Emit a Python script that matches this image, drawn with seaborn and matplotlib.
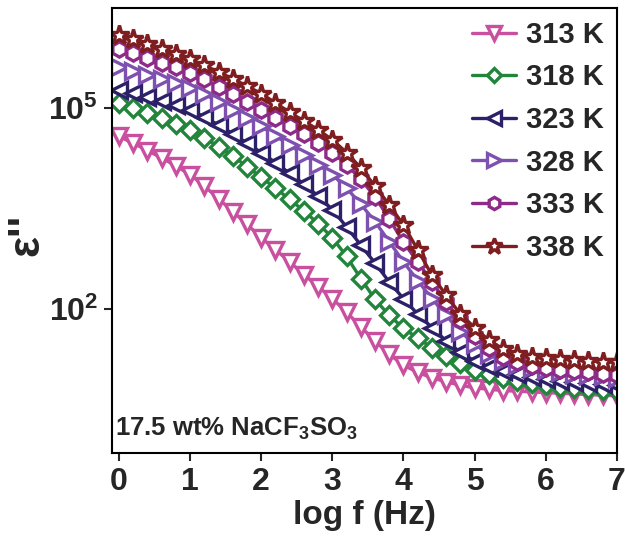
import matplotlib
matplotlib.use("Agg")
import matplotlib.pyplot as plt
import numpy as np
import pandas as pd
import seaborn as sns


# log f (Hz) grid of the measurement, 0 .. 7 in steps of 0.2
log_f = np.round(np.linspace(0, 7, 36), 1)

# log10 of the dielectric loss
log_eps_313 = [4.57, 4.47, 4.36, 4.25, 4.13, 4.00, 3.83, 3.64, 3.45, 3.26, 3.06, 2.88,
               2.70, 2.51, 2.33, 2.15, 1.95, 1.73, 1.52, 1.32, 1.16, 1.05, 0.97, 0.91,
               0.86, 0.82, 0.80, 0.78, 0.77, 0.76, 0.75, 0.74, 0.73, 0.72, 0.71, 0.70]
log_eps_318 = [5.07, 5.00, 4.92, 4.84, 4.76, 4.67, 4.55, 4.42, 4.28, 4.12, 3.96, 3.80,
               3.63, 3.46, 3.27, 3.06, 2.78, 2.45, 2.14, 1.90, 1.71, 1.56, 1.42, 1.30,
               1.19, 1.09, 1.02, 0.97, 0.93, 0.89, 0.86, 0.84, 0.82, 0.81, 0.79, 0.78]
log_eps_323 = [5.27, 5.22, 5.16, 5.10, 5.04, 4.97, 4.86, 4.74, 4.61, 4.47, 4.33, 4.18,
               4.02, 3.86, 3.68, 3.48, 3.22, 2.95, 2.68, 2.40, 2.15, 1.92, 1.72, 1.52,
               1.35, 1.22, 1.13, 1.07, 1.02, 0.98, 0.95, 0.93, 0.91, 0.90, 0.88, 0.87]
log_eps_328 = [5.60, 5.55, 5.49, 5.43, 5.37, 5.30, 5.20, 5.09, 4.97, 4.85, 4.72, 4.58,
               4.44, 4.30, 4.15, 4.00, 3.80, 3.56, 3.30, 3.00, 2.70, 2.42, 2.15, 1.90,
               1.66, 1.47, 1.32, 1.22, 1.16, 1.11, 1.08, 1.05, 1.03, 1.01, 0.99, 0.97]
log_eps_333 = [5.87, 5.81, 5.74, 5.67, 5.60, 5.52, 5.42, 5.31, 5.21, 5.09, 4.97, 4.85,
               4.73, 4.60, 4.47, 4.33, 4.15, 3.93, 3.67, 3.34, 2.99, 2.70, 2.40, 2.10,
               1.83, 1.60, 1.42, 1.28, 1.20, 1.15, 1.12, 1.09, 1.07, 1.05, 1.03, 1.01]
log_eps_338 = [6.09, 6.02, 5.95, 5.88, 5.80, 5.72, 5.63, 5.53, 5.43, 5.32, 5.21, 5.07,
               4.93, 4.80, 4.67, 4.52, 4.33, 4.10, 3.83, 3.55, 3.25, 2.88, 2.50, 2.20,
               1.92, 1.72, 1.53, 1.40, 1.32, 1.28, 1.26, 1.25, 1.24, 1.22, 1.21, 1.20]

temperatures = ["313 K", "318 K", "323 K", "328 K", "333 K", "338 K"]
series = [log_eps_313, log_eps_318, log_eps_323, log_eps_328, log_eps_333, log_eps_338]
colors = ["#C8509E", "#23843C", "#2C2168", "#7E50B0", "#8E2A88", "#7E1E20"]
markers = ["v", "D", "<", ">", "h", "*"]
marker_sizes = [12, 9.5, 12, 12, 11, 15]

sns.set_theme(style="ticks")
plt.rcParams["font.family"] = ["Liberation Sans", "DejaVu Sans"]
plt.rcParams["font.weight"] = "bold"
plt.rcParams["mathtext.fontset"] = "custom"
plt.rcParams["mathtext.bf"] = "Liberation Sans:bold"
plt.rcParams["mathtext.rm"] = "Liberation Sans:bold"
plt.rcParams["mathtext.default"] = "bf"

fig = plt.figure(figsize=(6.25, 5.53), dpi=100)
ax = fig.add_axes([0.179, 0.181, 0.808, 0.805])

for temp, vals, c, m, ms in zip(temperatures, series, colors, markers, marker_sizes):
    df = pd.DataFrame({"log_f": log_f, "eps": 10 ** np.array(vals)})
    sns.lineplot(
        data=df, x="log_f", y="eps", ax=ax, color=c, label=temp,
        marker=m, markersize=ms, markerfacecolor="white", markeredgecolor=c,
        markeredgewidth=2.4, linewidth=2.4,
    )

ax.set_yscale("log")
ax.set_xlim(-0.1, 7.0)
ax.set_ylim(10 ** -0.15, 10 ** 6.49)
ax.set_yticks([1e2, 1e5])
ax.set_yticklabels([r"$\mathbf{10^{2}}$", r"$\mathbf{10^{5}}$"])
ax.yaxis.set_minor_locator(matplotlib.ticker.NullLocator())
ax.set_xticks(range(0, 8))

ax.tick_params(axis="both", direction="out", length=6, width=1.5,
               labelsize=23, pad=4)
for s in ax.spines.values():
    s.set_linewidth(1.5)
    s.set_color("black")

ax.set_xlabel("log f (Hz)", fontsize=24, fontweight="bold", labelpad=2)
ax.set_ylabel("ε''", fontsize=32, fontweight="bold")
ax.yaxis.set_label_coords(-0.128, 0.49)

ax.text(0.006, 0.025, r"17.5 wt% NaCF$_3$SO$_3$", transform=ax.transAxes,
        fontsize=18.5, fontweight="bold", ha="left", va="bottom")

leg = ax.legend(loc="upper right", bbox_to_anchor=(1.0, 1.0), frameon=False,
                fontsize=21, handlelength=1.5, handletextpad=0.35,
                labelspacing=0.5, borderaxespad=0.05, markerscale=0.8)

fig.savefig("out.png", dpi=100)
